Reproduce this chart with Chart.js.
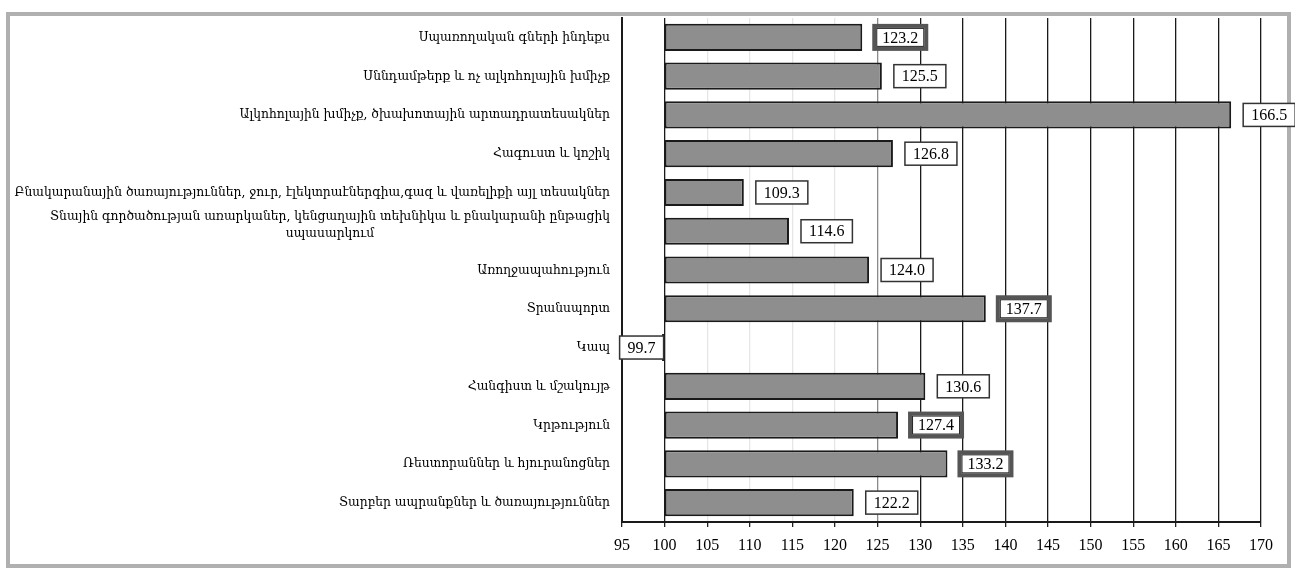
<!DOCTYPE html>
<html>
<head>
<meta charset="utf-8">
<script src="https://cdn.jsdelivr.net/npm/chart.js@4.4.1/dist/chart.umd.min.js"></script>
<style>
  html, body { margin: 0; padding: 0; background: #ffffff; }
  #wrap { width: 1295px; height: 575px; position: relative; }
</style>
</head>
<body>
<div id="wrap"><canvas id="c" width="1295" height="575"></canvas></div>
<script>
// ---- data ----
const categories = [
  "Սպառողական գների ինդեքս",
  "Սննդամթերք և ոչ ալկոհոլային խմիչք",
  "Ալկոհոլային խմիչք, ծխախոտային արտադրատեսակներ",
  "Հագուստ և կոշիկ",
  "Բնակարանային ծառայություններ, ջուր, էլեկտրաէներգիա,գազ և վառելիքի այլ տեսակներ",
  ["Տնային գործածության առարկաներ, կենցաղային տեխնիկա և բնակարանի ընթացիկ", "սպասարկում"],
  "Առողջապահություն",
  "Տրանսպորտ",
  "Կապ",
  "Հանգիստ և մշակույթ",
  "Կրթություն",
  "Ռեստորաններ և հյուրանոցներ",
  "Տարբեր ապրանքներ և ծառայություններ"
];
const values = [123.2, 125.5, 166.5, 126.8, 109.3, 114.6, 124.0, 137.7, 99.7, 130.6, 127.4, 133.2, 122.2];
const baseValue = 100;
const xMin = 95, xMax = 170, xStep = 5;

// ---- styling ----
const emphasizedBoxes = [0, 7, 10, 11];
const labelFontFamily = '"DejaVu Serif Condensed", "DejaVu Serif", "DejaVu Sans", serif';
const numFont = '16px "Liberation Serif", "DejaVu Serif", serif';

const framePlugin = {
  id: 'frame',
  beforeDraw(chart) {
    const ctx = chart.ctx;
    ctx.save();
    ctx.fillStyle = '#ffffff';
    ctx.fillRect(0, 0, chart.width, chart.height);
    ctx.strokeStyle = '#b0b0b0';
    ctx.lineWidth = 4;
    ctx.strokeRect(8, 14, 1281, 552);
    ctx.restore();
  }
};

const yLabelPlugin = {
  id: 'yLabels',
  afterDraw(chart) {
    const ctx = chart.ctx;
    const yScale = chart.scales.y;
    const right = 610;
    ctx.save();
    ctx.fillStyle = '#000000';
    ctx.textBaseline = 'middle';
    let longest = 0;
    ctx.font = '14px ' + labelFontFamily;
    categories.forEach(c => {
      (Array.isArray(c) ? c : [c]).forEach(s => { longest = Math.max(longest, ctx.measureText(s).width); });
    });
    const size = Math.min(15, 14 * 596 / longest);
    ctx.font = size.toFixed(2) + 'px ' + labelFontFamily;
    categories.forEach((c, i) => {
      const y = yScale.getPixelForValue(i);
      if (Array.isArray(c)) {
        const w1 = ctx.measureText(c[0]).width;
        ctx.textAlign = 'right';
        ctx.fillText(c[0], right, y - 15);
        ctx.textAlign = 'center';
        ctx.fillText(c[1], right - w1 / 2, y + 2);
      } else {
        ctx.textAlign = 'right';
        ctx.fillText(c, right, y);
      }
    });
    ctx.restore();
  }
};

const boxPlugin = {
  id: 'valueBoxes',
  afterDatasetsDraw(chart) {
    const ctx = chart.ctx;
    const meta = chart.getDatasetMeta(0);
    ctx.save();
    ctx.font = numFont;
    ctx.textAlign = 'center';
    ctx.textBaseline = 'middle';
    meta.data.forEach((el, i) => {
      const v = values[i];
      const txt = v.toFixed(1);
      const tw = ctx.measureText(txt).width;
      const w = tw + 16, h = 23;
      let left;
      if (v >= baseValue) left = el.x + 12;
      else left = el.x - 1 - w;
      const top = el.y - h / 2;
      const emph = emphasizedBoxes.includes(i);
      ctx.fillStyle = '#ffffff';
      ctx.fillRect(left, top, w, h);
      if (emph) {
        ctx.strokeStyle = '#555555';
        ctx.lineWidth = 4;
        ctx.strokeRect(left, top, w, h);
        ctx.strokeStyle = '#222';
        ctx.lineWidth = 1;
        ctx.strokeRect(left + 2.5, top + 2.5, w - 5, h - 5);
      } else {
        ctx.strokeStyle = '#333333';
        ctx.lineWidth = 1.5;
        ctx.strokeRect(left, top, w, h);
      }
      ctx.fillStyle = '#000';
      ctx.fillText(txt, left + w / 2, top + h / 2 + 1);
    });
    ctx.restore();
  }
};

new Chart(document.getElementById('c'), {
  type: 'bar',
  data: {
    labels: categories.map(c => Array.isArray(c) ? c.join(' ') : c),
    datasets: [{
      data: values.map(v => [baseValue, v]),
      backgroundColor: '#8e8e8e',
      borderColor: '#1a1a1a',
      borderWidth: 2,
      borderSkipped: false,
      barPercentage: 0.7,
      categoryPercentage: 1.0
    }]
  },
  options: {
    indexAxis: 'y',
    responsive: false,
    animation: false,
    devicePixelRatio: 1,
    layout: { padding: { left: 0, right: 34, top: 18, bottom: 0 } },
    plugins: { legend: { display: false }, tooltip: { enabled: false }, title: { display: false } },
    scales: {
      x: {
        type: 'linear',
        min: xMin, max: xMax,
        ticks: {
          stepSize: xStep,
          padding: 9,
          color: '#000',
          font: { family: '"Liberation Serif", "DejaVu Serif", serif', size: 16 }
        },
        grid: {
          drawOnChartArea: true,
          drawTicks: true,
          tickLength: 5,
          tickColor: '#222',
          color: (c) => {
            const v = c.tick && c.tick.value;
            if (v === xMin) return 'rgba(0,0,0,0)';
            if (v === baseValue) return '#1a1a1a';
            if (v > baseValue && v < 125) return '#e6e6e6';
            if (v === 125) return '#8a8a8a';
            return '#1a1a1a';
          },
          lineWidth: 1.3
        },
        border: { display: true, color: '#1a1a1a', width: 2 },
        afterFit(s) { s.height = 53; }
      },
      y: {
        type: 'category',
        ticks: { display: false },
        grid: { display: false, drawTicks: false },
        border: { display: true, color: '#1a1a1a', width: 2 },
        afterFit(s) { s.width = 622; }
      }
    }
  },
  plugins: [framePlugin, yLabelPlugin, boxPlugin]
});
</script>
</body>
</html>
